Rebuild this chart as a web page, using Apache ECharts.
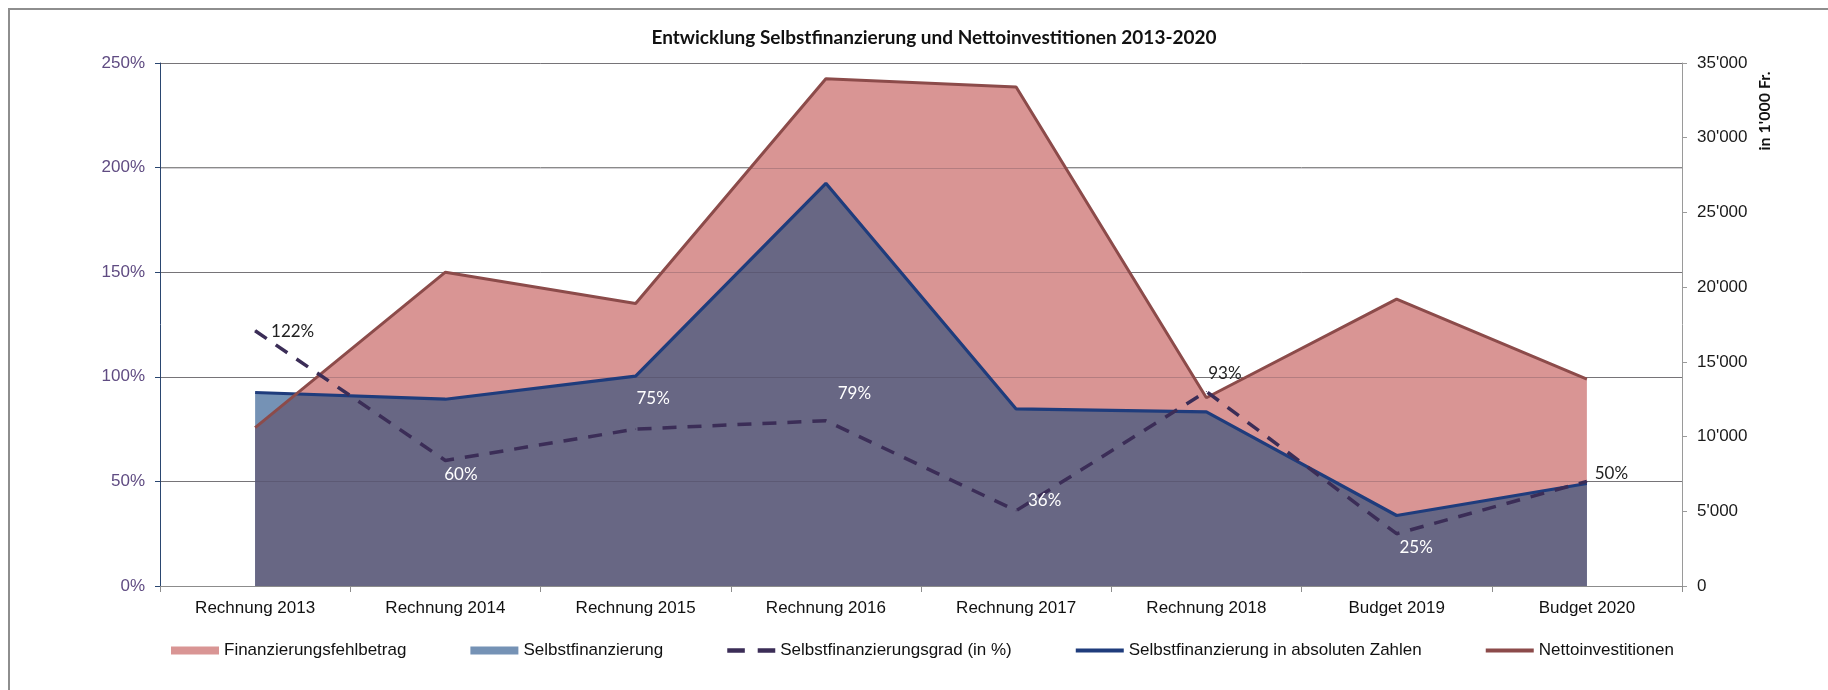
<!DOCTYPE html>
<html>
<head>
<meta charset="utf-8">
<title>Entwicklung Selbstfinanzierung und Nettoinvestitionen 2013-2020</title>
<script src="https://cdn.jsdelivr.net/npm/echarts@6/dist/echarts.min.js"></script>
<style>
	html, body { margin: 0; padding: 0; background: #fff; }
	#chart { width: 1828px; height: 690px; }
</style>
</head>
<body>
<div id="chart"></div>
<script>
let categories = ['Rechnung 2013', 'Rechnung 2014', 'Rechnung 2015', 'Rechnung 2016', 'Rechnung 2017', 'Rechnung 2018', 'Budget 2019', 'Budget 2020'];
let nettoinvestitionen = [10600, 21000, 18900, 33950, 33400, 12600, 19200, 13850];
let selbstfinanzierung = [12950, 12500, 14050, 26950, 11850, 11650, 4720, 6860];
let selbstfinanzierungsgrad = [122, 60, 75, 79, 36, 93, 25, 50];
let pctTicks = [0, 50, 100, 150, 200, 250];
let chfTicks = [0, 5000, 10000, 15000, 20000, 25000, 30000, 35000];

// where each % label sits relative to its point, and whether it is drawn dark
let gradLabelOffset = [[38, 1], [16, 15], [18, -30], [29, -27], [29, -10], [19, -17], [20, 14], [25, -7]];
let gradLabelDark = [true, false, false, false, false, true, false, true];

let pink = '#d99594';
let steel = '#7592b5';
let overlap = '#686784';
let navy = '#1f3c7c';
let brown = '#8c4b4a';
let dash = '#3b2d57';
let axisFont = 'Liberation Sans, Arial, sans-serif';
let calibri = 'Lato, Carlito, Calibri, sans-serif';

function chf(v) {
	return String(v).replace(/\B(?=(\d{3})+(?!\d))/g, "'");
}

// area under both lines (min of netto / selbst), crossings included
function renderOverlap(params, api) {
	let pts = [];
	let n = categories.length;
	for (let i = 0; i < n; i++) {
		let a = api.coord([i, nettoinvestitionen[i]]);
		let b = api.coord([i, selbstfinanzierung[i]]);
		pts.push(a[1] > b[1] ? a : b);
		if (i < n - 1) {
			let d0 = selbstfinanzierung[i] - nettoinvestitionen[i];
			let d1 = selbstfinanzierung[i + 1] - nettoinvestitionen[i + 1];
			if (d0 * d1 < 0) {
				let t = d0 / (d0 - d1);
				let b1 = api.coord([i + 1, selbstfinanzierung[i + 1]]);
				pts.push([b[0] + t * (b1[0] - b[0]), b[1] + t * (b1[1] - b[1])]);
			}
		}
	}
	pts.push(api.coord([n - 1, 0]), api.coord([0, 0]));
	return {
		type: 'polygon',
		shape: { points: pts },
		style: { fill: overlap, opacity: 1 }
	};
}

// gridlines showing faintly through the filled areas
function renderGridOverlay(params, api) {
	let cs = params.coordSys;
	let lines = pctTicks.slice(1).map(v => {
		let y = Math.round(api.coord([0, v])[1]) + 0.5;
		return {
			type: 'line',
			shape: { x1: cs.x, y1: y, x2: cs.x + cs.width, y2: y },
			style: { stroke: 'rgba(50,40,60,0.22)', lineWidth: 1 }
		};
	});
	return { type: 'group', children: lines };
}

let chart = echarts.init(document.getElementById('chart'));
let option = {
	animation: false,
	backgroundColor: '#fff',
	title: {
		text: 'Entwicklung Selbstfinanzierung und Nettoinvestitionen 2013-2020',
		left: 929,
		top: 23,
		textAlign: 'center',
		textStyle: { fontFamily: calibri, fontWeight: 'bold', fontSize: 19, color: '#111' }
	},
	graphic: [{
		type: 'rect',
		shape: { x: 9, y: 9, width: 1900, height: 800 },
		style: { fill: 'none', stroke: '#8e8e8e', lineWidth: 2 },
		silent: true
	}, {
		type: 'text',
		x: 1765,
		y: 111,
		rotation: Math.PI / 2,
		style: {
			text: "in 1'000 Fr.",
			font: 'bold 16px ' + calibri,
			fill: '#111',
			align: 'center',
			verticalAlign: 'middle'
		}
	}],
	legend: {
		left: 166,
		top: 637,
		itemWidth: 48,
		itemHeight: 10,
		itemGap: 64,
		textStyle: { fontFamily: axisFont, fontSize: 17, color: '#111' },
		data: [
			{ name: 'Finanzierungsfehlbetrag', icon: 'path://M0,0H48V8H0Z', itemStyle: { color: pink, borderWidth: 0 } },
			{ name: 'Selbstfinanzierung', icon: 'path://M0,0H48V8H0Z', itemStyle: { color: steel, borderWidth: 0 } },
			{ name: 'Selbstfinanzierungsgrad (in %)', icon: 'path://M0,0H15V4H0Z M26,0H41V4H26Z', itemStyle: { color: dash, borderWidth: 0 } },
			{ name: 'Selbstfinanzierung in absoluten Zahlen', icon: 'path://M0,0H50V4H0Z', itemStyle: { color: navy, borderWidth: 0 } },
			{ name: 'Nettoinvestitionen', icon: 'path://M0,0H50V4H0Z', itemStyle: { color: brown, borderWidth: 0 } }
		]
	},
	grid: { left: 160, right: 146, top: 63, bottom: 104, outerBoundsMode: 'none' },
	xAxis: {
		type: 'category',
		data: categories,
		boundaryGap: true,
		axisLine: { lineStyle: { color: '#8c8c8c', width: 1 } },
		axisTick: { show: true, length: 6, lineStyle: { color: '#8c8c8c' } },
		axisLabel: { margin: 14, fontFamily: axisFont, fontSize: 17, color: '#111' },
		splitLine: { show: false }
	},
	yAxis: [{
		type: 'value',
		min: pctTicks[0],
		max: pctTicks[pctTicks.length - 1],
		interval: pctTicks[1] - pctTicks[0],
		axisLine: { show: true, lineStyle: { color: '#2a4670', width: 1 } },
		axisTick: { show: true, length: 5, lineStyle: { color: '#2a4670' } },
		axisLabel: { margin: 15, fontFamily: axisFont, fontSize: 17, color: '#5f4b82', formatter: '{value}%' },
		splitLine: { show: true, lineStyle: { color: '#8a8a8a', width: 1 } }
	}, {
		type: 'value',
		position: 'right',
		min: chfTicks[0],
		max: chfTicks[chfTicks.length - 1],
		interval: chfTicks[1] - chfTicks[0],
		axisLine: { show: true, lineStyle: { color: '#9a9a9a', width: 1 } },
		axisTick: { show: true, length: 5, lineStyle: { color: '#9a9a9a' } },
		axisLabel: { margin: 15, fontFamily: axisFont, fontSize: 17, color: '#1a1a1a', formatter: chf },
		splitLine: { show: false }
	}],
	series: [{
		name: 'Finanzierungsfehlbetrag',
		type: 'line',
		z: 1,
		yAxisIndex: 1,
		data: nettoinvestitionen,
		symbol: 'none',
		itemStyle: { color: pink },
		lineStyle: { width: 0 },
		areaStyle: { color: pink, opacity: 1 },
		silent: true
	}, {
		name: 'Selbstfinanzierung',
		type: 'line',
		z: 1,
		yAxisIndex: 1,
		data: selbstfinanzierung,
		symbol: 'none',
		itemStyle: { color: steel },
		lineStyle: { width: 0 },
		areaStyle: { color: steel, opacity: 1 },
		silent: true
	}, {
		type: 'custom',
		z: 2,
		yAxisIndex: 1,
		data: [[0, 0]],
		renderItem: renderOverlap,
		silent: true
	}, {
		type: 'custom',
		z: 2,
		yAxisIndex: 0,
		data: [[0, 0]],
		renderItem: renderGridOverlay,
		silent: true
	}, {
		name: 'Selbstfinanzierung in absoluten Zahlen',
		type: 'line',
		z: 3,
		yAxisIndex: 1,
		data: selbstfinanzierung,
		symbol: 'none',
		itemStyle: { color: navy },
		lineStyle: { color: navy, width: 3.2 }
	}, {
		name: 'Nettoinvestitionen',
		type: 'line',
		z: 3,
		yAxisIndex: 1,
		data: nettoinvestitionen,
		symbol: 'none',
		itemStyle: { color: brown },
		lineStyle: { color: brown, width: 3 }
	}, {
		name: 'Selbstfinanzierungsgrad (in %)',
		type: 'line',
		z: 4,
		yAxisIndex: 0,
		data: selbstfinanzierungsgrad.map((v, i) => ({
			value: v,
			label: {
				position: gradLabelOffset[i],
				color: gradLabelDark[i] ? '#222' : '#fff'
			}
		})),
		showSymbol: true,
		symbol: 'circle',
		symbolSize: 1,
		itemStyle: { color: dash },
		lineStyle: { color: dash, width: 3.5, type: [14, 11] },
		label: {
			show: true,
			align: 'center',
			verticalAlign: 'middle',
			fontFamily: calibri,
			fontSize: 17,
			formatter: '{c}%'
		}
	}]
};
chart.setOption(option);
</script>
</body>
</html>
